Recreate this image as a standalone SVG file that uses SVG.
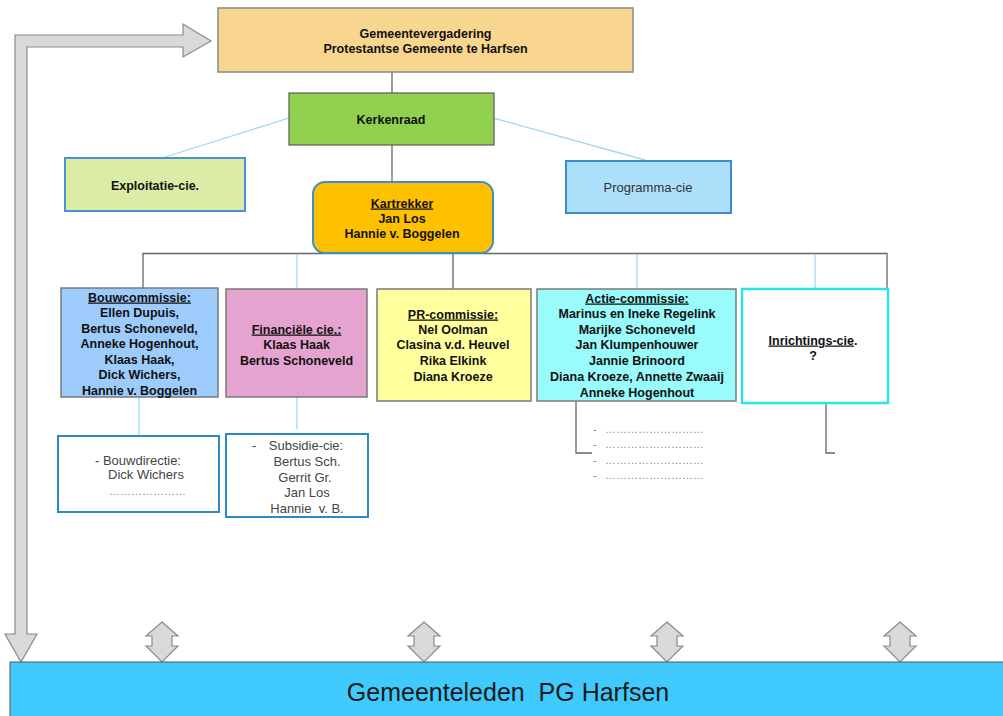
<svg xmlns="http://www.w3.org/2000/svg" width="1003" height="716" viewBox="0 0 1003 716">
<style>
text{font-family:"Liberation Sans",Arial,sans-serif;fill:#111;}
.b{font-size:12.5px;font-weight:bold;text-anchor:middle;}
.r{font-size:13px;text-anchor:middle;fill:#444;}
.u{text-decoration:underline;}
.g{stroke:#666;stroke-width:1.3;fill:none;}
.lb{stroke:#9fd8f7;stroke-width:1.3;fill:none;}
.box{stroke:#7a7a7a;stroke-width:1.5;}
.arr{fill:#d9d9d9;stroke:#8a8a8a;stroke-width:1.2;}
.dots{font-size:11px;fill:#888;}
</style>
<rect width="1003" height="716" fill="#fff"/>
<g id="connectors">
<line class="g" x1="392" y1="72" x2="392" y2="93"/>
<line class="g" x1="392" y1="145" x2="392" y2="182"/>
<line class="lb" x1="289" y1="118" x2="162" y2="158"/>
<line class="lb" x1="493" y1="118" x2="645" y2="160"/>
<polyline class="g" points="143,288 143,253.5 887,253.5 887,288" stroke="#999"/>
<line class="g" x1="453" y1="253" x2="453" y2="289"/>
<line class="lb" x1="297" y1="254" x2="297" y2="289"/>
<line class="lb" x1="637" y1="254" x2="637" y2="289"/>
<line class="lb" x1="815" y1="254" x2="815" y2="289"/>
<line class="lb" x1="139" y1="397" x2="139" y2="436"/>
<line class="lb" x1="297" y1="397" x2="297" y2="429"/>
<polyline class="g" points="576,401 576,453 592,453"/>
<polyline class="g" points="826,403 826,453 835,453" stroke="#888"/>
</g>
<g id="feedback-arrow">
<path class="arr" d="M15,634 L15,35 L183,35 L183,24 L211,41 L183,57 L183,47 L27,47 L27,634 L37,634 L21,662 L5,634 Z"/>
</g>
<g id="double-arrows">
<path class="arr" d="M162,622 L178,636 L172,636 L172,646 L178,646 L162,662 L146,646 L152,646 L152,636 L146,636 Z"/>
<path class="arr" d="M424,622 L440,636 L434,636 L434,646 L440,646 L424,662 L408,646 L414,646 L414,636 L408,636 Z"/>
<path class="arr" d="M667,622 L683,636 L677,636 L677,646 L683,646 L667,662 L651,646 L657,646 L657,636 L651,636 Z"/>
<path class="arr" d="M900,622 L916,636 L910,636 L910,646 L916,646 L900,662 L884,646 L890,646 L890,636 L884,636 Z"/>
</g>
<g id="gemeentevergadering">
<rect x="218" y="8" width="415" height="64" fill="#f9d68f" stroke="#888" stroke-width="1.5"/>
<text class="b" x="425.5" y="37.5">Gemeentevergadering</text>
<text class="b" x="425.5" y="52.5">Protestantse Gemeente te Harfsen</text>
</g>
<g id="kerkenraad">
<rect x="289" y="93" width="205" height="52" fill="#92d050" stroke="#5a5a5a" stroke-width="1.2"/>
<text class="b" x="391" y="123.5">Kerkenraad</text>
</g>
<g id="exploitatie">
<rect x="65" y="158" width="180" height="53" fill="#dbeca6" stroke="#4a92d0" stroke-width="2"/>
<text class="b" x="155" y="190">Exploitatie-cie.</text>
</g>
<g id="programma">
<rect x="566" y="161" width="165" height="52" fill="#acdffa" stroke="#3c8dc5" stroke-width="2"/>
<text x="648" y="191.5" style="font-size:13px;text-anchor:middle;fill:#333">Programma-cie</text>
</g>
<g id="kartrekker">
<rect x="313" y="182" width="180" height="71" rx="12" fill="#ffc000" stroke="#3d8fc4" stroke-width="2"/>
<text class="b" x="402" y="207.5"><tspan class="u">Kartrekker</tspan></text>
<text class="b" x="402" y="222.5">Jan Los</text>
<text class="b" x="402" y="237.5">Hannie v. Boggelen</text>
</g>
<g id="bouwcommissie">
<rect class="box" x="61" y="288" width="157" height="109" fill="#9dcbfb"/>
<text class="b" x="139.5" y="301.5"><tspan class="u">Bouwcommissie:</tspan></text>
<text class="b" x="139.5" y="317">Ellen Dupuis,</text>
<text class="b" x="139.5" y="332.5">Bertus Schoneveld,</text>
<text class="b" x="139.5" y="348">Anneke Hogenhout,</text>
<text class="b" x="139.5" y="363.5">Klaas Haak,</text>
<text class="b" x="139.5" y="379">Dick Wichers,</text>
<text class="b" x="139.5" y="394.5">Hannie v. Boggelen</text>
</g>
<g id="financiele">
<rect class="box" x="226" y="289" width="141" height="108" fill="#e5a3d0"/>
<text class="b" x="296.5" y="333.5"><tspan class="u">Financiële cie.:</tspan></text>
<text class="b" x="296.5" y="348.5">Klaas Haak</text>
<text class="b" x="296.5" y="364.5">Bertus Schoneveld</text>
</g>
<g id="pr-commissie">
<rect class="box" x="377" y="289" width="154" height="112" fill="#ffff9e"/>
<text class="b" x="453" y="318.5"><tspan class="u">PR-commissie:</tspan></text>
<text class="b" x="453" y="333.5">Nel Oolman</text>
<text class="b" x="453" y="348.5">Clasina v.d. Heuvel</text>
<text class="b" x="453" y="364.5">Rika Elkink</text>
<text class="b" x="453" y="380.5">Diana Kroeze</text>
</g>
<g id="actie-commissie">
<rect class="box" x="537" y="289" width="199" height="112" fill="#99fbfb"/>
<text class="b" x="637" y="302.5"><tspan class="u">Actie-commissie:</tspan></text>
<text class="b" x="637" y="317.5">Marinus en Ineke Regelink</text>
<text class="b" x="637" y="333.5">Marijke Schoneveld</text>
<text class="b" x="637" y="348.5">Jan Klumpenhouwer</text>
<text class="b" x="637" y="364.5">Jannie Brinoord</text>
<text class="b" x="637" y="380.5">Diana Kroeze, Annette Zwaaij</text>
<text class="b" x="637" y="396.5">Anneke Hogenhout</text>
</g>
<g id="inrichtings-cie">
<rect x="742" y="289" width="146" height="114" fill="#fff" stroke="#2ee3e3" stroke-width="2.5"/>
<text class="b" x="813" y="344.5"><tspan class="u">Inrichtings-cie</tspan>.</text>
<text class="b" x="813" y="359.5">?</text>
</g>
<g id="bouwdirectie">
<rect x="58" y="436" width="161" height="76" fill="#fff" stroke="#2f87c3" stroke-width="2"/>
<text class="r" x="138" y="464.5">- Bouwdirectie:</text>
<text class="r" x="146" y="479">Dick Wichers</text>
<text class="dots" x="109" y="495">…………………</text>
</g>
<g id="subsidie-cie">
<rect x="226" y="434" width="142" height="83" fill="#fff" stroke="#2f87c3" stroke-width="2"/>
<text class="r" x="252" y="449.5" style="text-anchor:start">-</text>
<text class="r" x="306" y="449.5">Subsidie-cie:</text>
<text class="r" x="307" y="465.5">Bertus Sch.</text>
<text class="r" x="305" y="481.5">Gerrit Gr.</text>
<text class="r" x="307" y="496.5">Jan Los</text>
<text class="r" x="307" y="512.5">Hannie&#160; v. B.</text>
</g>
<g id="actie-sublist">
<text class="dots" x="593" y="433">-</text><text class="dots" x="605" y="433">………………………</text>
<text class="dots" x="593" y="448">-</text><text class="dots" x="605" y="448">………………………</text>
<text class="dots" x="593" y="464">-</text><text class="dots" x="605" y="464">………………………</text>
<text class="dots" x="593" y="479">-</text><text class="dots" x="605" y="479">………………………</text>
</g>
<g id="gemeenteleden">
<rect x="10" y="662" width="1000" height="60" fill="#40c9fd" stroke="#555" stroke-width="1"/>
<text x="508" y="701" style="font-size:25px;text-anchor:middle;fill:#1a1a1a">Gemeenteleden&#160; PG Harfsen</text>
</g>
</svg>
